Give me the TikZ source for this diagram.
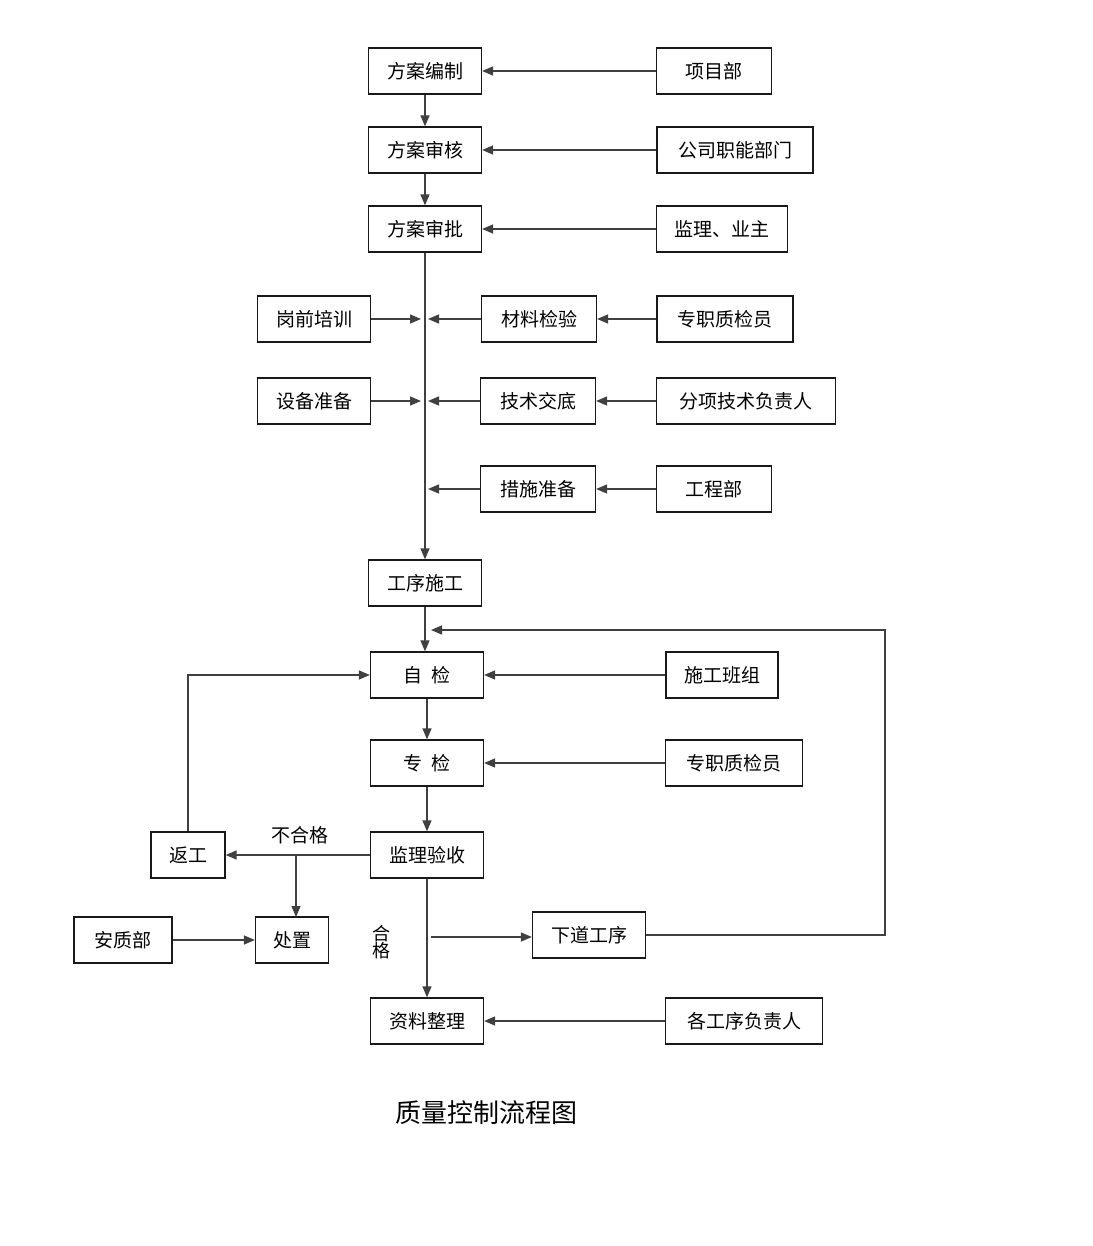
\documentclass[tikz,border=0pt]{standalone}
\usepackage{fontspec}
\newfontfamily\cjk{Noto Sans CJK SC}
\usetikzlibrary{arrows.meta}
\tikzset{
 blk/.style={draw=black!90,line width=1.3pt,minimum height=46pt,inner sep=0pt,font=\cjk\fontsize{19}{22}\selectfont},
 arr/.style={draw=black!75,line width=1.4pt,-{Triangle[length=11pt,width=9pt]}},
 ln/.style={draw=black!75,line width=1.4pt}
}
\begin{document}
\begin{tikzpicture}[x=1pt,y=-1pt]
 \useasboundingbox[fill=white] (0,0) rectangle (1092,1246);
 % main column
 \node[blk,minimum width=113pt] (bz) at (425,71) {方案编制};
 \node[blk,minimum width=113pt] (sh) at (425,150) {方案审核};
 \node[blk,minimum width=113pt] (sp) at (425,229) {方案审批};
 \node[blk,minimum width=113pt] (gx) at (425,583) {工序施工};
 \node[blk,minimum width=113pt] (zj) at (427,675) {自\ \ 检};
 \node[blk,minimum width=113pt] (zhj) at (427,763) {专\ \ 检};
 \node[blk,minimum width=113pt] (ys) at (427,855) {监理验收};
 \node[blk,minimum width=113pt] (zl) at (427,1021) {资料整理};
 % right side
 \node[blk,minimum width=115pt] (xmb) at (714,71) {项目部};
 \node[blk,minimum width=156pt] (gs) at (735,150) {公司职能部门};
 \node[blk,minimum width=131pt] (jl) at (722,229) {监理、业主};
 \node[blk,minimum width=115pt] (cl) at (539,319) {材料检验};
 \node[blk,minimum width=136pt] (zz1) at (725,319) {专职质检员};
 \node[blk,minimum width=115pt] (jd) at (538,401) {技术交底};
 \node[blk,minimum width=179pt] (fx) at (746,401) {分项技术负责人};
 \node[blk,minimum width=115pt] (cs) at (538,489) {措施准备};
 \node[blk,minimum width=115pt] (gcb) at (714,489) {工程部};
 \node[blk,minimum width=112pt] (bzu) at (722,675) {施工班组};
 \node[blk,minimum width=137pt] (zz2) at (734,763) {专职质检员};
 \node[blk,minimum width=113pt] (xd) at (589,935) {下道工序};
 \node[blk,minimum width=157pt] (fz) at (744,1021) {各工序负责人};
 % left side
 \node[blk,minimum width=113pt] (gq) at (314,319) {岗前培训};
 \node[blk,minimum width=113pt] (sb) at (314,401) {设备准备};
 \node[blk,minimum width=74pt] (fg) at (188,855) {返工};
 \node[blk,minimum width=73pt] (cz) at (292,940) {处置};
 \node[blk,minimum width=98pt] (azb) at (123,940) {安质部};
 % labels
 \node[font=\cjk\fontsize{19}{22}\selectfont] (bhg) at (300,835) {不合格};
 \node[font=\cjk\fontsize{18}{17}\selectfont,align=center] (hg) at (381,942) {合\\格};
 \node[font=\cjk\fontsize{26}{30}\selectfont] (title) at (486,1113) {质量控制流程图};
 % spine
 \coordinate (s1) at (425,319);
 \coordinate (s2) at (425,401);
 \coordinate (s3) at (425,489);
 \coordinate (fb) at (885,630);
 \coordinate (hgp) at (431,937);
 \draw[arr] (bz) -- (sh);
 \draw[arr] (sh) -- (sp);
 \draw[arr] (sp) -- (gx);
 \draw[arr] (xmb) -- (bz);
 \draw[arr] (gs) -- (sh);
 \draw[arr] (jl) -- (sp);
 \draw[arr] (zz1) -- (cl);
 \draw[arr] (fx) -- (jd);
 \draw[arr] (gcb) -- (cs);
 \draw[arr] (gq) -- ([xshift=-4pt]s1);
 \draw[arr] (sb) -- ([xshift=-4pt]s2);
 \draw[arr] (cl) -- ([xshift=3pt]s1);
 \draw[arr] (jd) -- ([xshift=3pt]s2);
 \draw[arr] (cs) -- ([xshift=3pt]s3);
 % inspection
 \draw[arr] (gx.south) -- (gx.south |- zj.north);
 \draw[arr] (xd.east) -- (fb |- xd.east) -- (fb) -- (431,630);
 \draw[arr] (zj) -- (zhj);
 \draw[arr] (zhj) -- (ys);
 \draw[arr] (ys) -- (zl);
 \draw[arr] (bzu) -- (zj);
 \draw[arr] (zz2) -- (zhj);
 \draw[arr] (fz) -- (zl);
 \draw[arr] (hgp) -- (hgp -| xd.west);
 \draw[arr] (ys) -- (fg);
 \draw[arr] (296,855) -- (296,917);
 \draw[arr] (fg.north) -- (fg.north |- zj.west) -- (zj.west);
 \draw[arr] (azb) -- (cz);
\end{tikzpicture}
\end{document}
